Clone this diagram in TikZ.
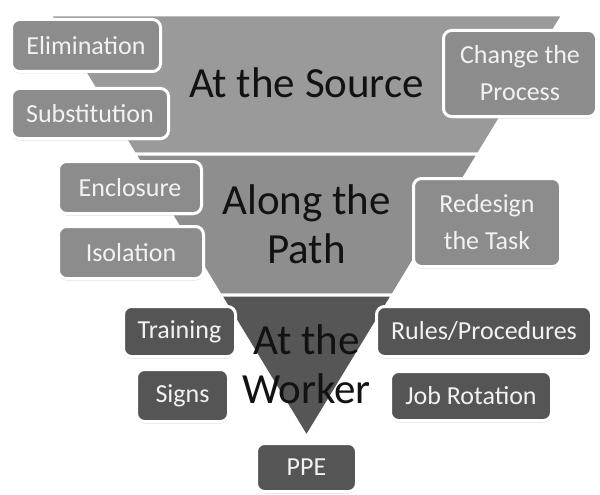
\documentclass[tikz,border=0pt]{standalone}
\usepackage{fontspec}
\setmainfont{Carlito}
\usetikzlibrary{shadows}

\definecolor{bandtop}{HTML}{9A9A9A}
\definecolor{bandmid}{HTML}{8E8E8E}
\definecolor{bandlow}{HTML}{565656}
\definecolor{boxlight}{HTML}{8C8C8C}
\definecolor{boxdark}{HTML}{555555}
\definecolor{boxtext}{HTML}{F2F2F2}

\begin{document}
\begin{tikzpicture}[x=1pt,y=-1pt,
  band/.style={draw=white,line width=3pt,line join=round,
    drop shadow={shadow xshift=0pt,shadow yshift=-1.5pt,fill=black!25,opacity=0.5}},
  label/.style={text=black!93,font=\fontsize{43}{49}\selectfont,align=center,inner sep=0pt},
  ctrl/.style={draw=white,line width=3pt,rounded corners=8pt,text=boxtext,
    font=\fontsize{26}{37}\selectfont,align=center,inner sep=0pt,
    drop shadow={shadow xshift=0pt,shadow yshift=-2pt,fill=black!25,opacity=0.5}},
  lightbox/.style={ctrl,fill=boxlight},
  darkbox/.style={ctrl,fill=boxdark}]

%definitions

\def\cx{306.5} % centre line
\def\ty{15} % top of funnel
\def\ay{437} % apex
\def\hw{256.5} % top half-width
\def\ya{154} % source/path split
\def\yb{295} % path/worker split
\def\wa{172.0} % half-width at split a
\def\wb{86.3} % half-width at split b

\useasboundingbox[fill=white] (0,0) rectangle (600,495);

%funnel bands

\filldraw[band,fill=bandtop] ({\cx-\hw},\ty) -- ({\cx+\hw},\ty) -- ({\cx+\wa},\ya) -- ({\cx-\wa},\ya) -- cycle; %at the source
\filldraw[band,fill=bandmid] ({\cx-\wa},\ya) -- ({\cx+\wa},\ya) -- ({\cx+\wb},\yb) -- ({\cx-\wb},\yb) -- cycle; %along the path
\filldraw[band,fill=bandlow] ({\cx-\wb},\yb) -- ({\cx+\wb},\yb) -- (\cx,\ay) -- cycle; %at the worker

%band labels

\node[label] (source) at (\cx,83) {At the Source};
\node[label] (path) at (\cx,224) {Along the\\Path};
\node[label] (worker) at (\cx,364) {At the\\Worker};

%controls at the source

\node[lightbox,minimum width=149,minimum height=52] (elim) at (86,45.5) {Elimination};
\node[lightbox,minimum width=157,minimum height=50] (subst) at (90,113.5) {Substitution};
\node[lightbox,minimum width=153,minimum height=86] (change) at (520,73.5) {Change the\\Process};

%controls along the path

\node[lightbox,minimum width=143,minimum height=52] (encl) at (130,187.5) {Enclosure};
\node[lightbox,minimum width=145,minimum height=52] (isol) at (131,252.5) {Isolation};
\node[lightbox,minimum width=147,minimum height=88] (redesign) at (487,222.5) {Redesign\\the Task};

%controls at the worker

\node[darkbox,minimum width=112,minimum height=50] (train) at (179.5,331.5) {Training};
\node[darkbox,minimum width=92,minimum height=52] (signs) at (182.5,395.5) {Signs};
\node[darkbox,minimum width=215,minimum height=50] (rules) at (484,331.5) {Rules/Procedures};
\node[darkbox,minimum width=161,minimum height=49] (jobrot) at (471,396) {Job Rotation};
\node[darkbox,minimum width=100,minimum height=48] (ppe) at (306.5,467.5) {PPE};

\end{tikzpicture}
\end{document}
